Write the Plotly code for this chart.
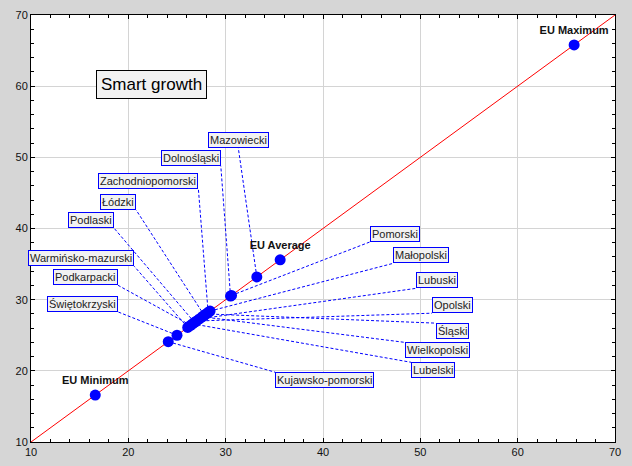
import plotly.graph_objects as go

# smart growth index, regions and EU reference points (value on both axes)
regions = ["Mazowiecki", "Dolnośląski", "Zachodniopomorski", "Łódzki", "Podlaski",
           "Warmińsko-mazurski", "Podkarpacki", "Świętokrzyski",
           "Pomorski", "Małopolski", "Lubuski", "Opolski", "Śląski",
           "Wielkopolski", "Lubelski", "Kujawsko-pomorski"]
region_values = [33.2, 30.5, 28.2, 27.8, 26.8,
                 26.1, 26.4, 25.0,
                 30.6, 28.4, 27.3, 27.0, 28.0,
                 27.6, 26.6, 24.1]

eu_names = ["EU Minimum", "EU Average", "EU Maximum"]
eu_values = [16.6, 35.6, 65.8]

axis_min, axis_max = 10, 70

# where each label box sits (data coords) and which corner the leader line hits
label_pos = {
    "Mazowiecki": (31.3, 51.3, "center", "bottom"),
    "Dolnośląski": (29.5, 48.8, "right", "bottom"),
    "Zachodniopomorski": (27.2, 45.5, "right", "bottom"),
    "Łódzki": (20.8, 42.6, "right", "bottom"),
    "Podlaski": (18.5, 40.1, "right", "bottom"),
    "Warmińsko-mazurski": (20.6, 34.7, "right", "bottom"),
    "Podkarpacki": (18.9, 32.05, "right", "bottom"),
    "Świętokrzyski": (18.9, 28.3, "right", "bottom"),
    "Pomorski": (44.8, 38.1, "left", "bottom"),
    "Małopolski": (47.2, 35.1, "left", "bottom"),
    "Lubuski": (49.6, 31.6, "left", "bottom"),
    "Opolski": (51.2, 28.1, "left", "bottom"),
    "Śląski": (51.6, 26.7, "left", "top"),
    "Wielkopolski": (48.4, 24.0, "left", "top"),
    "Lubelski": (49.05, 21.2, "left", "top"),
    "Kujawsko-pomorski": (35.1, 19.8, "left", "top"),
}

fig = go.Figure()

# diagonal y = x
fig.add_trace(go.Scatter(x=[axis_min, axis_max], y=[axis_min, axis_max], mode="lines",
                         line=dict(color="#ff0000", width=1), hoverinfo="skip"))

# dashed leader lines
lx, ly = [], []
for name, v in zip(regions, region_values):
    px, py, _, _ = label_pos[name]
    lx += [v, px, None]
    ly += [v, py, None]
fig.add_trace(go.Scatter(x=lx, y=ly, mode="lines",
                         line=dict(color="#0000ff", width=1, dash="3px,2px"), hoverinfo="skip"))

# region points
fig.add_trace(go.Scatter(x=region_values, y=region_values, mode="markers",
                         marker=dict(color="#0000ff", size=11), text=regions))

# EU points with bold labels
fig.add_trace(go.Scatter(x=eu_values, y=eu_values, mode="markers+text", text=eu_names,
                         textposition="top center",
                         textfont=dict(family="Arial", size=11, color="#111111", weight="bold"),
                         marker=dict(color="#0000ff", size=11)))

for name in regions:
    px, py, xa, ya = label_pos[name]
    fig.add_annotation(x=px, y=py, xref="x", yref="y", text=name, showarrow=False,
                       xanchor=xa, yanchor=ya, bgcolor="#f2f2f2", bordercolor="#0000ff",
                       borderwidth=1, borderpad=1,
                       font=dict(family="Arial", size=11, color="#222222"))

fig.add_annotation(x=22.4, y=60.3, xref="x", yref="y", text="Smart growth", showarrow=False,
                   bgcolor="#f2f2f2", bordercolor="#000000", borderwidth=1, borderpad=4,
                   font=dict(family="Arial", size=17, color="#000000"))

axis_style = dict(range=[axis_min, axis_max], dtick=10, showgrid=True, gridcolor="#d4d4d4",
                  zeroline=False, showline=True, linecolor="#000000", linewidth=1,
                  mirror="ticks", ticks="inside", ticklen=4, tickcolor="#000000",
                  minor=dict(dtick=2, ticks="inside", ticklen=3, tickcolor="#000000", showgrid=False),
                  tickfont=dict(family="Arial", size=11, color="#111111"), automargin=False)

fig.update_layout(width=632, height=466, showlegend=False,
                  paper_bgcolor="#d6d6d6", plot_bgcolor="#ffffff",
                  margin=dict(l=31, r=17, t=15, b=24),
                  xaxis=axis_style, yaxis=axis_style)

# page body has a default margin, drop it so the figure fills the window
fig.write_html("out.html", config={"displayModeBar": False},
               post_script="document.body.style.margin='0';")
